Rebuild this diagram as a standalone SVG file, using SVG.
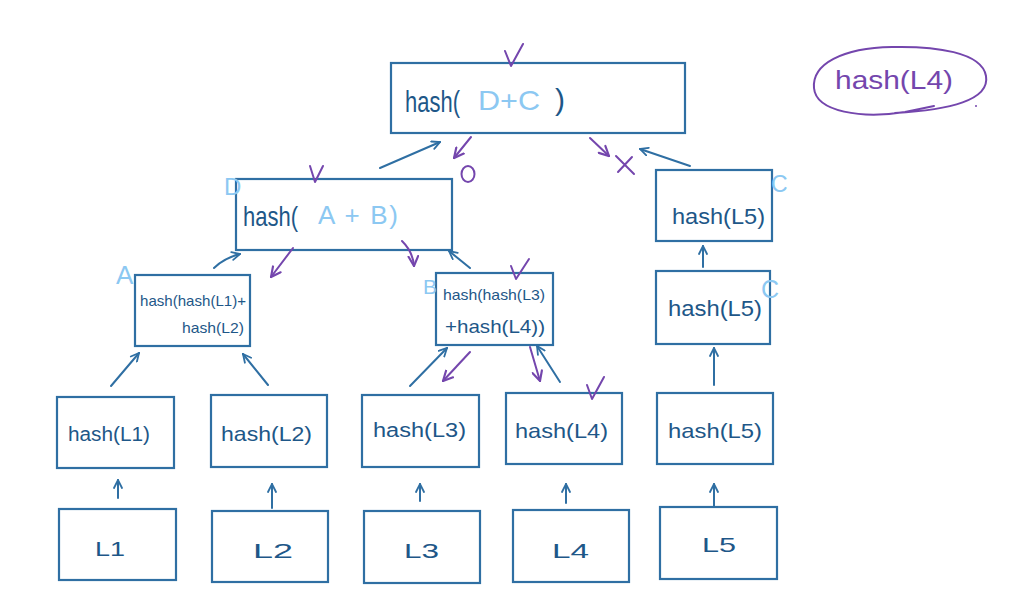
<svg xmlns="http://www.w3.org/2000/svg" width="1024" height="609" viewBox="0 0 1024 609">
<style>
.box{fill:none;stroke:#2f6fa3;stroke-width:2.2}
.t{font-family:"Liberation Sans","DejaVu Sans",sans-serif;fill:#1e5788}
.lb{font-family:"Liberation Sans","DejaVu Sans",sans-serif;fill:#8cc8f2}
.pu{font-family:"Liberation Sans","DejaVu Sans",sans-serif;fill:#7446ad}
.c{fill:none;stroke:#2f6fa3;stroke-width:2;stroke-linecap:round}
.p{fill:none;stroke:#7446ad;stroke-width:2;stroke-linecap:round;stroke-linejoin:round}
</style>
<defs>
<marker id="ab" viewBox="0 0 10 10" refX="9" refY="5" markerWidth="10" markerHeight="10" markerUnits="userSpaceOnUse" orient="auto">
<path d="M1,1 L9,5 L1,9" fill="none" stroke="#2f6fa3" stroke-width="1.8" stroke-linecap="round"/>
</marker>
<marker id="ap" viewBox="0 0 10 10" refX="9" refY="5" markerWidth="12" markerHeight="12" markerUnits="userSpaceOnUse" orient="auto">
<path d="M1,1 L9,5 L1,9" fill="none" stroke="#7446ad" stroke-width="1.8" stroke-linecap="round"/>
</marker>
</defs>
<rect width="1024" height="609" fill="#ffffff"/>

<g id="root">
<rect class="box" x="391" y="63" width="294" height="70"/>
<text class="t" x="405" y="112" font-size="30" textLength="55" lengthAdjust="spacingAndGlyphs">hash(</text>
<text class="lb" x="478" y="110" font-size="28" textLength="62" lengthAdjust="spacingAndGlyphs">D+C</text>
<text class="t" x="555" y="110" font-size="30">)</text>
</g>

<g id="nodeD">
<rect class="box" x="236" y="179" width="216" height="71"/>
<text class="t" x="243" y="226" font-size="28" textLength="55" lengthAdjust="spacingAndGlyphs">hash(</text>
<text class="lb" x="318" y="224" font-size="26" textLength="80" lengthAdjust="spacing">A + B)</text>
<text class="lb" x="224" y="195" font-size="24">D</text>
</g>

<g id="nodeA">
<rect class="box" x="135" y="275" width="115" height="71"/>
<text class="t" x="140" y="306" font-size="15" textLength="106" lengthAdjust="spacingAndGlyphs">hash(hash(L1)+</text>
<text class="t" x="182" y="333" font-size="15" textLength="62" lengthAdjust="spacingAndGlyphs">hash(L2)</text>
<text class="lb" x="116" y="284" font-size="26">A</text>
</g>

<g id="nodeB">
<rect class="box" x="436" y="273" width="117" height="72"/>
<text class="t" x="443" y="300" font-size="15" textLength="102" lengthAdjust="spacingAndGlyphs">hash(hash(L3)</text>
<text class="t" x="445" y="333" font-size="19" textLength="100" lengthAdjust="spacingAndGlyphs">+hash(L4))</text>
<text class="lb" x="423" y="294" font-size="21">B</text>
</g>

<g id="nodeC1">
<rect class="box" x="656" y="170" width="116" height="71"/>
<text class="t" x="672" y="224" font-size="22" textLength="93" lengthAdjust="spacingAndGlyphs">hash(L5)</text>
<text class="lb" x="771" y="192" font-size="23">C</text>
</g>

<g id="nodeC2">
<rect class="box" x="656" y="271" width="114" height="73"/>
<text class="t" x="668" y="316" font-size="22" textLength="94" lengthAdjust="spacingAndGlyphs">hash(L5)</text>
<text class="lb" x="761" y="298" font-size="25">C</text>
</g>

<g id="h1"><rect class="box" x="57" y="397" width="117" height="71"/><text class="t" x="68" y="441" font-size="20" textLength="82" lengthAdjust="spacingAndGlyphs">hash(L1)</text></g>
<g id="h2"><rect class="box" x="211" y="395" width="116" height="72"/><text class="t" x="221" y="441" font-size="21" textLength="91" lengthAdjust="spacingAndGlyphs">hash(L2)</text></g>
<g id="h3"><rect class="box" x="362" y="395" width="117" height="72"/><text class="t" x="373" y="437" font-size="20" textLength="93" lengthAdjust="spacingAndGlyphs">hash(L3)</text></g>
<g id="h4"><rect class="box" x="506" y="393" width="116" height="71"/><text class="t" x="515" y="438" font-size="21" textLength="93" lengthAdjust="spacingAndGlyphs">hash(L4)</text></g>
<g id="h5"><rect class="box" x="657" y="393" width="116" height="71"/><text class="t" x="668" y="438" font-size="21" textLength="94" lengthAdjust="spacingAndGlyphs">hash(L5)</text></g>

<g id="L1"><rect class="box" x="59" y="509" width="117" height="71"/><text class="t" x="95" y="556" font-size="21" textLength="30" lengthAdjust="spacingAndGlyphs">L1</text></g>
<g id="L2"><rect class="box" x="212" y="511" width="116" height="71"/><text class="t" x="253" y="558" font-size="21" textLength="40" lengthAdjust="spacingAndGlyphs">L2</text></g>
<g id="L3"><rect class="box" x="364" y="511" width="116" height="72"/><text class="t" x="404" y="558" font-size="21" textLength="35" lengthAdjust="spacingAndGlyphs">L3</text></g>
<g id="L4"><rect class="box" x="513" y="510" width="116" height="72"/><text class="t" x="552" y="558" font-size="21" textLength="37" lengthAdjust="spacingAndGlyphs">L4</text></g>
<g id="L5"><rect class="box" x="660" y="507" width="117" height="72"/><text class="t" x="702" y="552" font-size="21" textLength="34" lengthAdjust="spacingAndGlyphs">L5</text></g>

<g id="connectors">
<line class="c" x1="118" y1="498" x2="118" y2="480" marker-end="url(#ab)"/>
<line class="c" x1="272" y1="508" x2="272" y2="484" marker-end="url(#ab)"/>
<line class="c" x1="420" y1="501" x2="420" y2="484" marker-end="url(#ab)"/>
<line class="c" x1="566" y1="503" x2="566" y2="484" marker-end="url(#ab)"/>
<line class="c" x1="714" y1="507" x2="714" y2="484" marker-end="url(#ab)"/>
<line class="c" x1="714" y1="385" x2="714" y2="348" marker-end="url(#ab)"/>
<line class="c" x1="703" y1="267" x2="703" y2="246" marker-end="url(#ab)"/>
<line class="c" x1="111" y1="386" x2="139" y2="353" marker-end="url(#ab)"/>
<line class="c" x1="268" y1="385" x2="243" y2="354" marker-end="url(#ab)"/>
<path class="c" d="M214,268 Q224,258 240,254" marker-end="url(#ab)"/>
<line class="c" x1="410" y1="386" x2="447" y2="348" marker-end="url(#ab)"/>
<line class="c" x1="560" y1="382" x2="537" y2="346" marker-end="url(#ab)"/>
<line class="c" x1="470" y1="268" x2="449" y2="251" marker-end="url(#ab)"/>
<line class="c" x1="380" y1="168" x2="440" y2="142" marker-end="url(#ab)"/>
<line class="c" x1="690" y1="166" x2="640" y2="149" marker-end="url(#ab)"/>
</g>

<g id="marks">
<path class="p" d="M505,51 L511,66 L523,44"/>
<path class="p" d="M310,166 L315,182 L323,166"/>
<path class="p" d="M511,266 L516,279 L529,259"/>
<path class="p" d="M587,385 L592,399 L604,377"/>
<line class="p" x1="471" y1="137" x2="454" y2="158" marker-end="url(#ap)"/>
<ellipse class="p" cx="468" cy="174" rx="6.5" ry="8"/>
<line class="p" x1="590" y1="138" x2="609" y2="156" marker-end="url(#ap)"/>
<path class="p" d="M616,156 L634,174 M632,157 L618,172"/>
<line class="p" x1="293" y1="248" x2="271" y2="277" marker-end="url(#ap)"/>
<path class="p" d="M402,241 Q413,252 414,266" marker-end="url(#ap)"/>
<line class="p" x1="470" y1="352" x2="443" y2="381" marker-end="url(#ap)"/>
<line class="p" x1="530" y1="347" x2="540" y2="381" marker-end="url(#ap)"/>
</g>

<g id="note">
<path class="p" d="M895,113 C950,110 990,100 986,76 C982,52 935,46 892,47 C842,48 812,64 814,88 C816,112 862,119 905,112 L934,106"/>
<text class="pu" x="835" y="89" font-size="26" textLength="118" lengthAdjust="spacingAndGlyphs">hash(L4)</text>
<circle cx="976" cy="106" r="1" fill="#7446ad"/>
</g>
</svg>
